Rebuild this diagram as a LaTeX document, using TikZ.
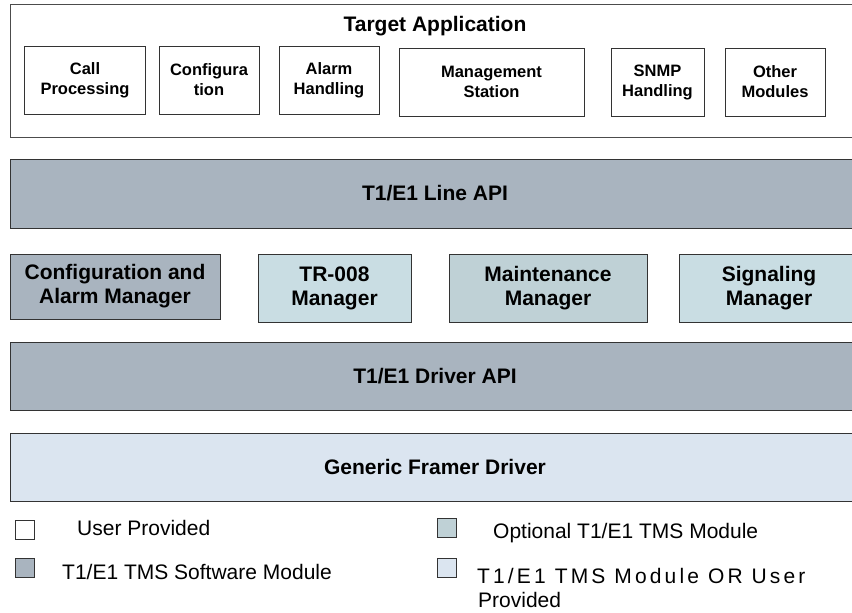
\documentclass[tikz,border=0pt]{standalone}
\usepackage{fontspec}
\setmainfont{Liberation Sans}
\usepackage{tikz}
\definecolor{apigray}{HTML}{A9B4BF}
\definecolor{optblue}{HTML}{C9DDE3}
\definecolor{maintblue}{HTML}{BFD1D6}
\definecolor{framerblue}{HTML}{DBE5F0}

\begin{document}
\begin{tikzpicture}[x=1pt, y=-1pt,
  every node/.style={align=center},
  modbox/.style={draw=black!80, line width=0.9pt, inner sep=0pt},
  appmod/.style={modbox, fill=white, minimum height=68pt,
    font=\fontsize{16.5}{20}\selectfont\bfseries},
  layer/.style={modbox, minimum width=850pt, minimum height=68pt,
    font=\fontsize{21}{25}\selectfont\bfseries},
  mgr/.style={modbox, minimum height=68pt,
    font=\fontsize{21}{24}\selectfont\bfseries},
  legbox/.style={modbox, minimum size=19pt},
  legtext/.style={anchor=west, inner sep=0pt, font=\fontsize{21}{26}\selectfont}]
  \useasboundingbox (0,0) rectangle (852,613);
  \clip (0,0) rectangle (852,613);
  % target application
  \node[modbox, draw=black!70, minimum width=850pt, minimum height=133pt] (app) at (435,70.5) {};
  \node[font=\fontsize{21}{25}\selectfont\bfseries] (apptitle) at (435,26) {Target Application};
  \node[appmod, minimum width=121pt] (callp)  at (85,80)    {Call\\Processing};
  \node[appmod, minimum width=100pt] (config) at (209,80)   {Configura\\tion};
  \node[appmod, minimum width=100pt] (alarm)  at (329,80)   {Alarm\\Handling};
  \node[appmod, minimum width=185pt] (mgmt)   at (491.5,82) {Management\\Station};
  \node[appmod, minimum width=93pt]  (snmp)   at (657.5,82) {SNMP\\Handling};
  \node[appmod, minimum width=100pt] (other)  at (775,82)   {Other\\Modules};
  % layers
  \node[layer, fill=apigray, minimum height=69pt] (lineapi) at (435,193.5) {T1/E1 Line API};
  \node[mgr, fill=apigray, minimum width=210pt, minimum height=65pt] (cfgalarm) at (115,286.5) {Configuration and\\Alarm Manager};
  \node[mgr, fill=optblue, minimum width=153pt]   (tr008)  at (334.5,288) {TR-008\\Manager};
  \node[mgr, fill=maintblue, minimum width=198pt] (maint)  at (548,288)   {Maintenance\\Manager};
  \node[mgr, fill=optblue, minimum width=180pt]   (signal) at (769,288)   {Signaling\\Manager};
  \node[layer, fill=apigray]    (drvapi) at (435,376) {T1/E1 Driver API};
  \node[layer, fill=framerblue] (framer) at (435,467) {Generic Framer Driver};
  % legend
  \node[legbox, fill=white]      (keyuser) at (24.5,529.5) {};
  \node[legbox, fill=apigray]    (keytms)  at (24.5,567.5) {};
  \node[legbox, fill=maintblue]  (keyopt)  at (446.5,528)  {};
  \node[legbox, fill=framerblue] (keyor)   at (446.5,567.5) {};
  \node[legtext] (keyusertext) at (77,528)  {User Provided};
  \node[legtext] (keytmstext)  at (62,572)  {T1/E1 TMS Software Module};
  \node[legtext] (keyopttext)  at (493,533) {Optional T1/E1 TMS Module};
  \node[legtext] (keyortext)   at (477,576) {\addfontfeature{LetterSpace=15}T1/E1 TMS Module OR User};
  \node[legtext] (keyortext2)  at (478,600) {Provided};
\end{tikzpicture}
\end{document}
